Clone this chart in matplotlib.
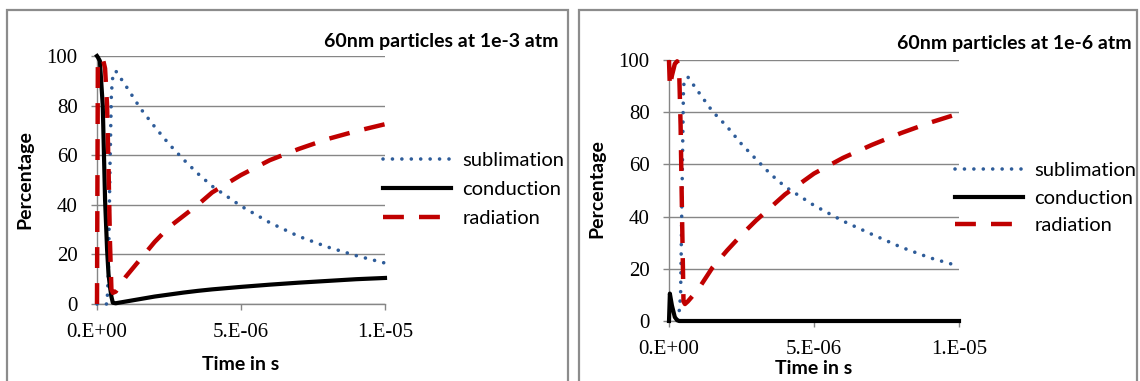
import matplotlib
matplotlib.use("Agg")
import matplotlib.pyplot as plt
from matplotlib.patches import Rectangle
import numpy as np

# time grid in microseconds, shared by every series
t_us = [0, 0.03, 0.1, 0.2, 0.28, 0.35, 0.4, 0.45, 0.5, 0.55, 0.65,
        1, 1.5, 2, 2.5, 3, 3.5, 4, 5, 6, 7, 8, 9, 10]

# 60nm particles at 1e-3 atm
sub_3 = [0, 0, 0, 0, 0, 0, 15, 55, 85, 92, 94,
         88, 79, 71.5, 64.5, 58.3, 52.6, 47.5, 39.5, 32.8, 27.3, 23, 19.5, 16.5]
cond_3 = [100, 99.5, 98, 80, 42, 22, 12, 7, 3, 0.5, 0.3,
          1, 2, 3, 3.8, 4.6, 5.3, 5.9, 6.9, 7.8, 8.6, 9.3, 10, 10.5]
rad_3 = [0, 98, 99, 99, 95, 80, 55, 25, 6, 4.5, 5,
         11, 18, 25, 31, 35.5, 40, 45, 52, 58, 62.5, 66.5, 69.7, 72.5]

# 60nm particles at 1e-6 atm
sub_6 = [0, 0, 0, 0, 0, 3.5, 10, 50, 90, 92.5, 93.5,
         88, 80.3, 74.5, 67.8, 62, 56.3, 51.5, 44.3, 38.3, 33.2, 28.3, 24.2, 21]
cond_6 = [0, 10.5, 6, 1.5, 0.3, 0, 0, 0, 0, 0, 0,
          0, 0, 0, 0, 0, 0, 0, 0, 0, 0, 0, 0, 0]
rad_6 = [100, 89.5, 94, 98.5, 99.5, 96, 75, 40, 7.5, 6.5, 7.5,
         12, 20.5, 27, 33, 38.5, 43.5, 48.5, 56.5, 62.5, 67.5, 72, 76, 79.5]

series_names = ["sublimation", "conduction", "radiation"]
titles = ["60nm particles at 1e-3 atm", "60nm particles at 1e-6 atm"]
x_ticks = [0, 5e-6, 1e-5]
x_tick_labels = ["0.E+00", "5.E-06", "1.E-05"]
y_ticks = [0, 20, 40, 60, 80, 100]

W, H = 1140, 381
GREY = "#868686"
BLUE = "#2E5C99"
RED = "#C00000"
SANS = "Lato"
SERIF = "Liberation Serif"

fig = plt.figure(figsize=(W / 100, H / 100), dpi=100)


def fx(px):
    return px / W


def fy(py):
    return 1 - py / H


# chart frames
for x0, x1 in [(7, 568), (579, 1137)]:
    fig.patches.append(Rectangle((fx(x0), -0.2), fx(x1 - x0), fy(10) + 0.2,
                                 transform=fig.transFigure, fill=False,
                                 edgecolor="#8C8C8C", linewidth=1.6))

# axes boxes in pixels: left, right, top, bottom
boxes = [(97, 385, 56, 304), (669, 959, 60, 321)]
legend_pos = [(383, 189.5, 0.6), (955, 198, 0.53)]
title_pos = [(558, 42), (1132, 43)]
xlabel_y = [365, 368]
ylabel_x = [25, 597]
ylabel_y = [180, 189]
data = [(sub_3, cond_3, rad_3), (sub_6, cond_6, rad_6)]

t = np.array(t_us) * 1e-6

for i, (l, r, top, bot) in enumerate(boxes):
    ax = fig.add_axes([fx(l), fy(bot), fx(r - l), (bot - top) / H])
    sub, cond, rad = data[i]
    h1, = ax.plot(t, sub, color=BLUE, lw=2.6, dashes=(0.01, 2.6),
                  dash_capstyle="round", clip_on=False, zorder=3)
    h2, = ax.plot(t, cond, color="black", lw=3.0, clip_on=False, zorder=3)
    h3, = ax.plot(t, rad, color=RED, lw=3.2, dashes=(4.7, 3.4),
                  clip_on=False, zorder=4)

    ax.set_xlim(0, 1e-5)
    ax.set_ylim(0, 100)
    ax.set_xticks(x_ticks)
    ax.set_xticklabels(x_tick_labels)
    ax.set_yticks(y_ticks)
    for lab in ax.get_xticklabels() + ax.get_yticklabels():
        lab.set_fontfamily(SERIF)
        lab.set_fontsize(15)
    ax.tick_params(axis="both", direction="out", length=4, width=1,
                   color=GREY, pad=10)
    ax.grid(axis="y", color=GREY, lw=1)
    ax.set_axisbelow(True)
    for s in ["top", "right"]:
        ax.spines[s].set_visible(False)
    for s in ["left", "bottom"]:
        ax.spines[s].set_color(GREY)
        ax.spines[s].set_linewidth(1)

    ax.set_xlabel("Time in s", fontfamily=SANS, fontweight="bold",
                  fontsize=14, va="center")
    ax.xaxis.set_label_coords(0.5, -(xlabel_y[i] - bot) / (bot - top))
    ax.set_ylabel("Percentage", fontfamily=SANS, fontweight="bold",
                  fontsize=14, va="center")
    ax.yaxis.set_label_coords((ylabel_x[i] - l) / (r - l),
                              (bot - ylabel_y[i]) / (bot - top))

    lx, ly, spacing = legend_pos[i]
    fig.legend([h1, h2, h3], series_names, loc="center left",
               bbox_to_anchor=(fx(lx), fy(ly)), frameon=False,
               borderpad=0, borderaxespad=0, handlelength=3.4,
               handletextpad=0.55, labelspacing=spacing,
               prop={"family": SANS, "size": 14.5})

    tx, ty = title_pos[i]
    fig.text(fx(tx), fy(ty), titles[i], ha="right", va="center",
             fontfamily=SANS, fontweight="bold", fontsize=14)

fig.savefig("out.png", dpi=100)
